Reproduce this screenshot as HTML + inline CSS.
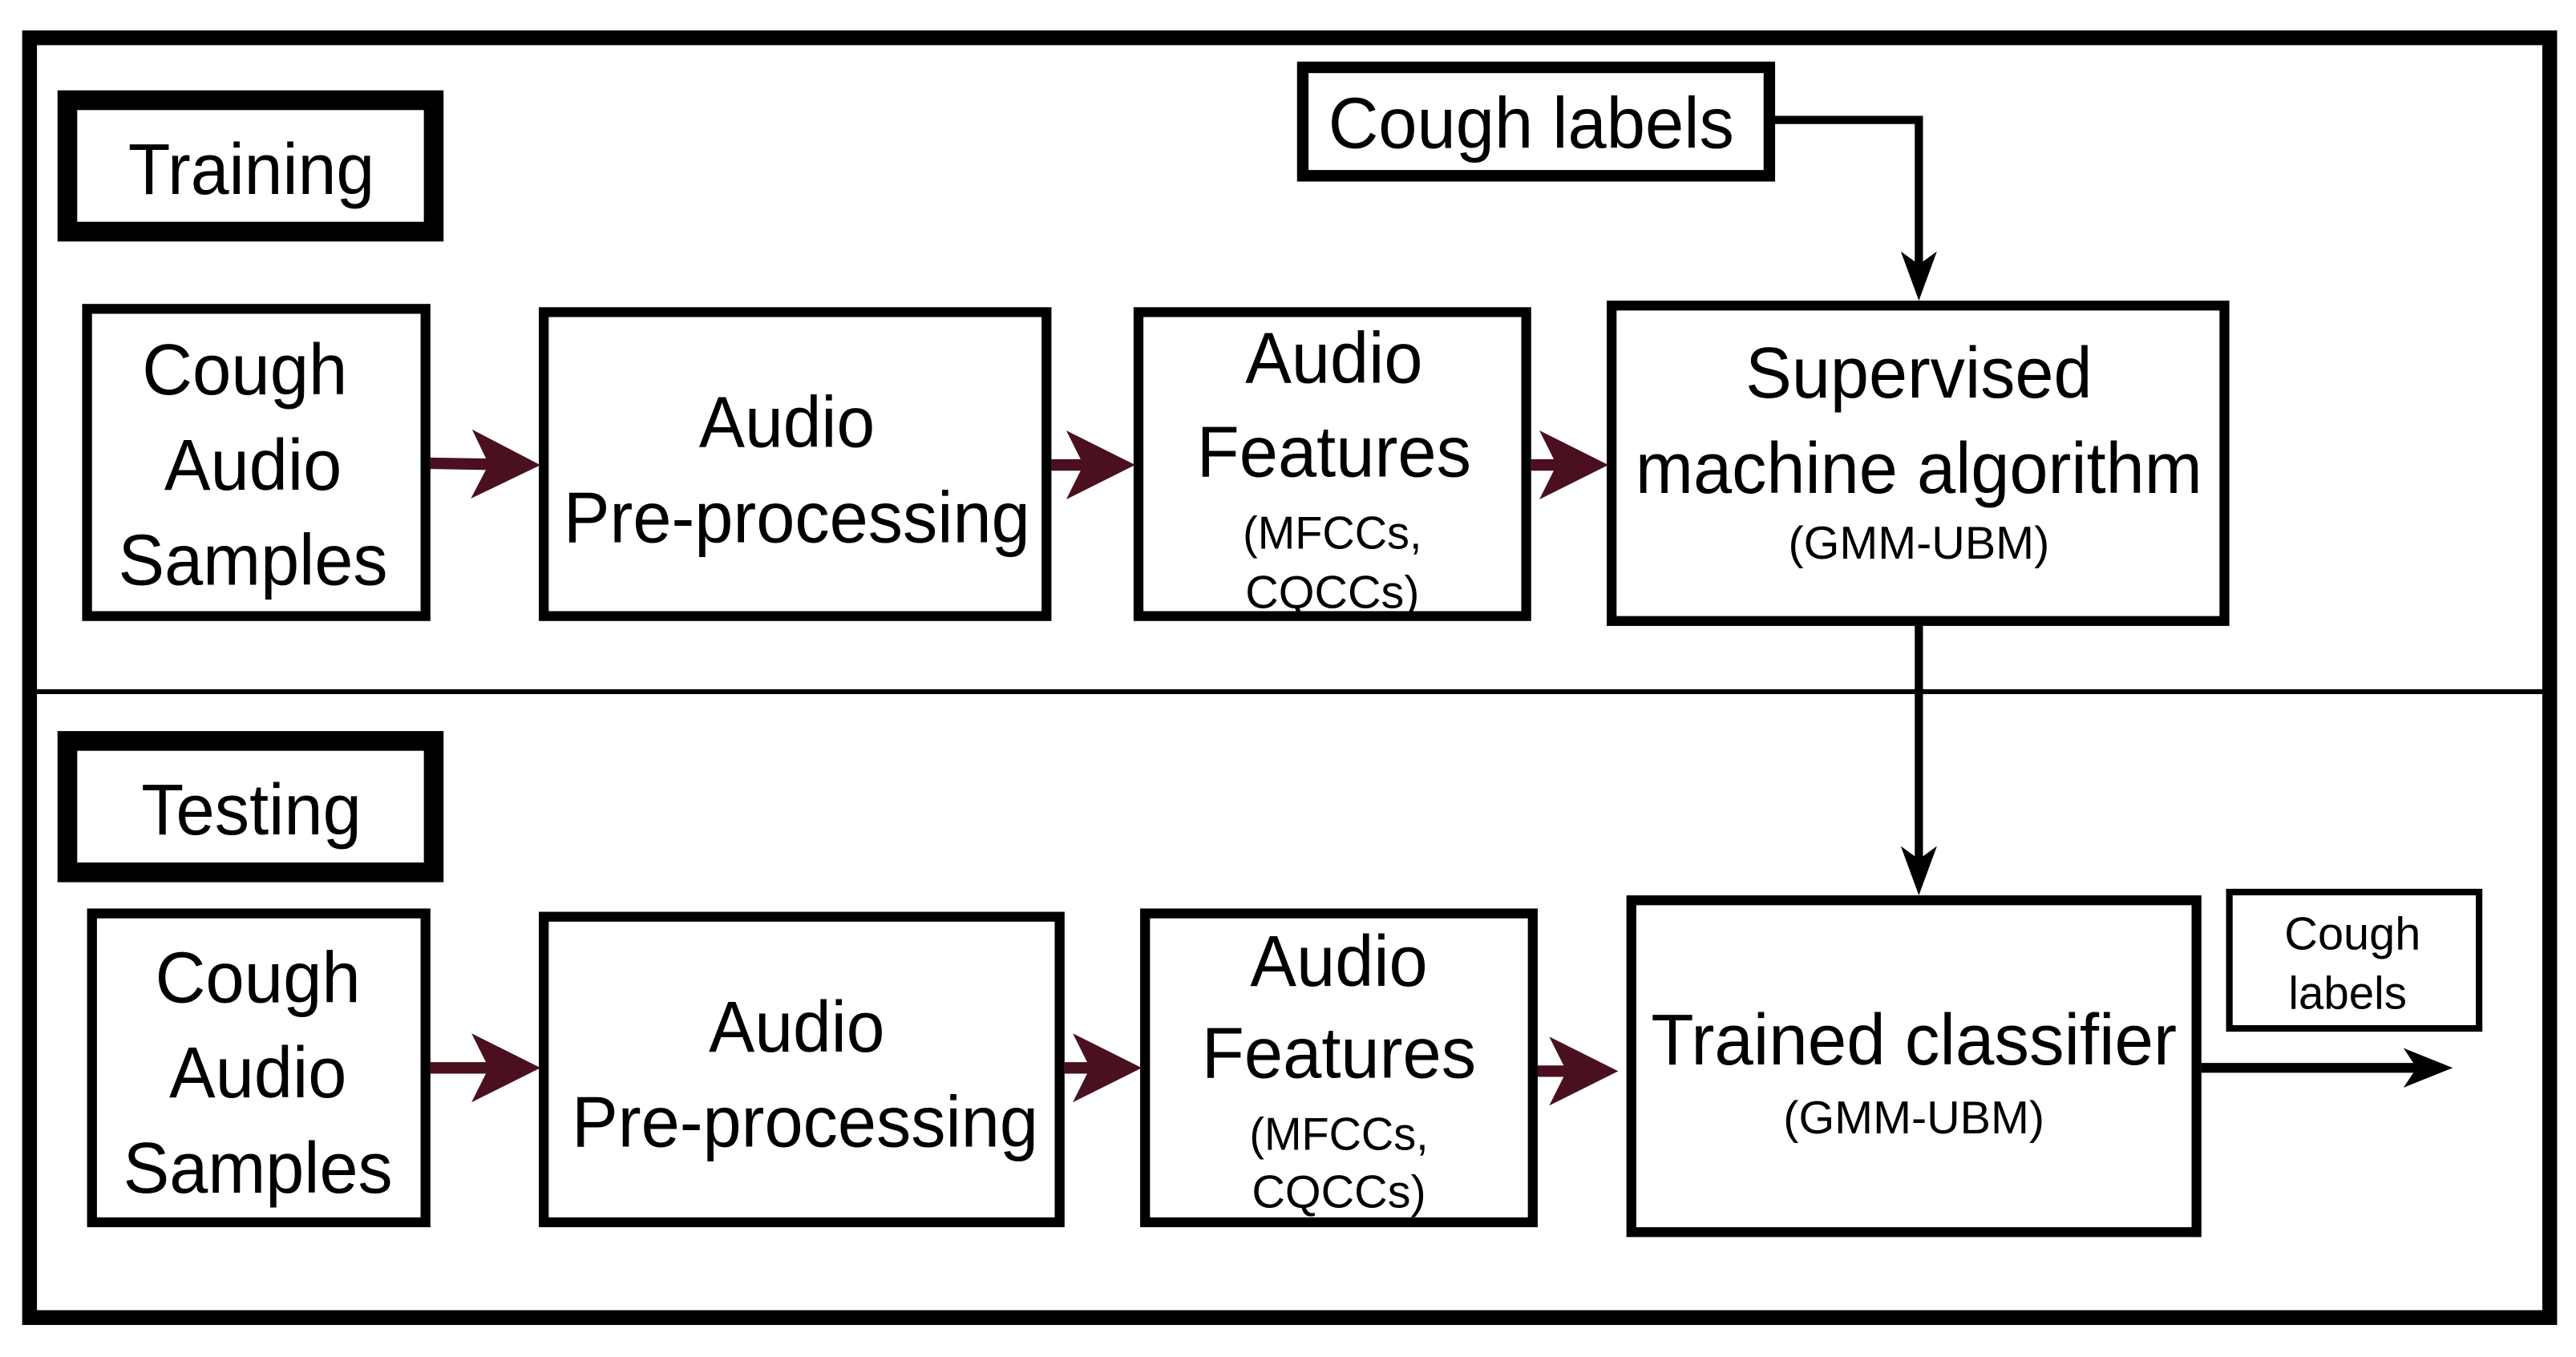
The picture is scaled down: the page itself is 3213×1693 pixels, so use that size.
<!DOCTYPE html>
<html><head><meta charset="utf-8"><style>html,body{margin:0;padding:0;background:#fff}svg{display:block}</style></head>
<body>
<svg width="3213" height="1693" viewBox="0 0 1568 826" preserveAspectRatio="none" xmlns="http://www.w3.org/2000/svg" font-family="Liberation Sans, Arial, sans-serif" text-anchor="middle">
<defs>
<marker id="mr" markerWidth="6" markerHeight="6" refX="5" refY="3" orient="auto" markerUnits="strokeWidth"><path d="M0,0 L6,3 L0,6 L1.5,3 Z" fill="#4a1020"/></marker>
</defs>
<rect x="18" y="23" width="1534" height="779" fill="#fff" stroke="#000" stroke-width="9"/>
<line x1="18" y1="421" x2="1552" y2="421" stroke="#000" stroke-width="3"/>
<g fill="none" stroke="#000">
<rect x="41" y="61" width="223" height="80" stroke-width="12"/>
<rect x="41" y="451" width="223" height="80" stroke-width="12"/>
<rect x="793" y="41" width="284" height="66" stroke-width="7"/>
<rect x="53" y="188" width="206" height="187" stroke-width="6"/>
<rect x="331" y="190" width="306" height="185" stroke-width="6"/>
<rect x="693" y="190" width="236" height="185" stroke-width="6"/>
<rect x="981" y="186" width="373" height="192" stroke-width="6"/>
<rect x="56" y="556" width="203" height="188" stroke-width="6"/>
<rect x="331" y="558" width="314" height="186" stroke-width="6"/>
<rect x="697" y="556" width="236" height="188" stroke-width="6"/>
<rect x="993" y="548" width="344" height="202" stroke-width="6"/>
<rect x="1357" y="543" width="152" height="83" stroke-width="4"/>
<polyline points="1080,73 1168,73 1168,162" stroke-width="5"/>
<line x1="1168" y1="381" x2="1168" y2="524" stroke-width="5"/>
<line x1="1340" y1="650" x2="1472" y2="650" stroke-width="6"/>
</g>
<g fill="#000">
<path d="M1157,153 L1168,183 L1179,153 L1168,161 Z"/>
<path d="M1157,515 L1168,545 L1179,515 L1168,523 Z"/>
<path d="M1463,638 L1493,650 L1463,662 L1471,650 Z"/>
</g>
<g stroke="#4a1020" stroke-width="7" marker-end="url(#mr)">
<line x1="262" y1="282" x2="322" y2="283"/>
<line x1="640" y1="283" x2="684" y2="283"/>
<line x1="932" y1="283" x2="972" y2="283"/>
<line x1="262" y1="650" x2="322" y2="650"/>
<line x1="648" y1="650" x2="688" y2="650"/>
<line x1="936" y1="652" x2="978" y2="652"/>
</g>
<g fill="#000" font-size="44">
<text x="153" y="118" textLength="150" lengthAdjust="spacingAndGlyphs">Training</text>
<text x="153" y="508" textLength="134" lengthAdjust="spacingAndGlyphs">Testing</text>
<text x="932" y="90" textLength="247" lengthAdjust="spacingAndGlyphs">Cough labels</text>
<text x="149" y="240" textLength="125" lengthAdjust="spacingAndGlyphs">Cough</text>
<text x="154" y="298" textLength="108" lengthAdjust="spacingAndGlyphs">Audio</text>
<text x="154" y="356" textLength="164" lengthAdjust="spacingAndGlyphs">Samples</text>
<text x="479" y="272" textLength="107" lengthAdjust="spacingAndGlyphs">Audio</text>
<text x="485" y="330" textLength="284" lengthAdjust="spacingAndGlyphs">Pre-processing</text>
<text x="812" y="233" textLength="108" lengthAdjust="spacingAndGlyphs">Audio</text>
<text x="812" y="290" textLength="167" lengthAdjust="spacingAndGlyphs">Features</text>
<text x="1168" y="242" textLength="211" lengthAdjust="spacingAndGlyphs">Supervised</text>
<text x="1168" y="300" textLength="345" lengthAdjust="spacingAndGlyphs">machine algorithm</text>
<text x="157" y="610" textLength="125" lengthAdjust="spacingAndGlyphs">Cough</text>
<text x="157" y="668" textLength="108" lengthAdjust="spacingAndGlyphs">Audio</text>
<text x="157" y="726" textLength="164" lengthAdjust="spacingAndGlyphs">Samples</text>
<text x="485" y="640" textLength="107" lengthAdjust="spacingAndGlyphs">Audio</text>
<text x="490" y="698" textLength="284" lengthAdjust="spacingAndGlyphs">Pre-processing</text>
<text x="815" y="600" textLength="108" lengthAdjust="spacingAndGlyphs">Audio</text>
<text x="815" y="656" textLength="167" lengthAdjust="spacingAndGlyphs">Features</text>
<text x="1165" y="648" textLength="320" lengthAdjust="spacingAndGlyphs">Trained classifier</text>
</g>
<g fill="#000" font-size="28">
<text x="811" y="334" textLength="109" lengthAdjust="spacingAndGlyphs">(MFCCs,</text>
<text x="811" y="370" textLength="106" lengthAdjust="spacingAndGlyphs">CQCCs)</text>
<text x="1168" y="340" textLength="159" lengthAdjust="spacingAndGlyphs">(GMM-UBM)</text>
<text x="815" y="700" textLength="109" lengthAdjust="spacingAndGlyphs">(MFCCs,</text>
<text x="815" y="735" textLength="106" lengthAdjust="spacingAndGlyphs">CQCCs)</text>
<text x="1165" y="690" textLength="159" lengthAdjust="spacingAndGlyphs">(GMM-UBM)</text>
<text x="1432" y="578" textLength="83" lengthAdjust="spacingAndGlyphs">Cough</text>
<text x="1429" y="614" textLength="72" lengthAdjust="spacingAndGlyphs">labels</text>
</g>
</svg>
</body></html>
